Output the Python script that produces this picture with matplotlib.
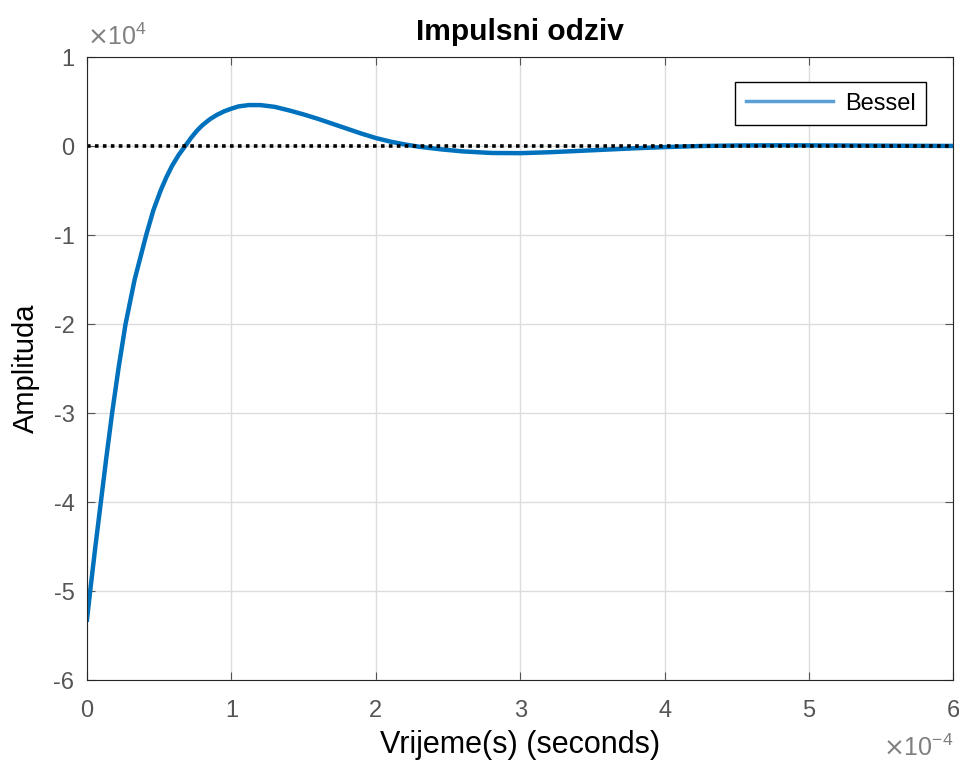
import numpy as np
import matplotlib
matplotlib.use('Agg')
from matplotlib import pyplot as plt

plt.rcParams['font.family'] = ['Liberation Sans', 'DejaVu Sans']

# impulse response: time in 1e-4 s, amplitude in 1e4
t_vals = [0.00, 0.022, 0.058, 0.096, 0.134, 0.174, 0.218, 0.267, 0.33, 0.41,
          0.46, 0.51, 0.55, 0.59, 0.635, 0.68, 0.72, 0.76, 0.80, 0.85, 0.90,
          0.95, 1.00, 1.05, 1.12, 1.20, 1.30, 1.40, 1.50, 1.60, 1.70, 1.80,
          1.90, 2.00, 2.10, 2.20, 2.30, 2.45, 2.60, 2.80, 3.00, 3.20, 3.40,
          3.60, 3.80, 4.00, 4.25, 4.50, 4.80, 5.20, 5.60, 6.00]
amp_vals = [-5.32, -5.00, -4.50, -4.00, -3.50, -3.00, -2.50, -2.00, -1.50,
            -1.00, -0.72, -0.50, -0.35, -0.22, -0.10, 0.00, 0.09, 0.17, 0.235,
            0.30, 0.35, 0.39, 0.42, 0.445, 0.46, 0.46, 0.44, 0.40, 0.355,
            0.305, 0.25, 0.195, 0.14, 0.09, 0.05, 0.018, -0.008, -0.037,
            -0.06, -0.078, -0.08, -0.07, -0.055, -0.04, -0.025, -0.012, 0.00,
            0.006, 0.008, 0.006, 0.003, 0.001]
x_ticks = [0, 1, 2, 3, 4, 5, 6]
y_ticks = [-6, -5, -4, -3, -2, -1, 0, 1]

t = np.array(t_vals) * 1e-4
amp = np.array(amp_vals) * 1e4

gray = '#555555'
fig = plt.figure(figsize=(9.59, 7.6), dpi=100)
ax = fig.add_axes([0.0907, 0.105, 0.9035, 0.820])

ax.plot(t, amp, color='#0072BD', lw=3.2, label='Bessel',
        solid_joinstyle='round')
ax.axhline(0, color='black', lw=2.6, ls=(0, (1, 1.2)))

ax.set_xlim(0, 6e-4)
ax.set_ylim(-6e4, 1e4)
ax.set_xticks(np.array(x_ticks) * 1e-4)
ax.set_xticklabels([str(v) for v in x_ticks])
ax.set_yticks(np.array(y_ticks) * 1e4)
ax.set_yticklabels([str(v) for v in y_ticks])
ax.tick_params(direction='in', top=True, right=True, labelsize=17,
               colors=gray, length=6)
ax.tick_params(axis='x', pad=14)
ax.tick_params(axis='y', pad=9)
ax.grid(True, color='#dcdcdc', lw=1)
for s in ax.spines.values():
    s.set_color('#262626')

ax.text(0, 1.012, r'$\times\mathregular{10^{4}}$', transform=ax.transAxes,
        fontsize=18, color='#808080', va='bottom', ha='left')
ax.text(1.0, -0.088, r'$\times\mathregular{10^{-4}}$', transform=ax.transAxes,
        fontsize=18, color='#808080', va='top', ha='right')

ax.set_title('Impulsni odziv', fontsize=21.5, fontweight='bold', pad=12)
ax.set_xlabel('Vrijeme(s) (seconds)', fontsize=22, labelpad=6)
ax.set_ylabel('Amplituda', fontsize=21, labelpad=10)

leg = ax.legend(loc='upper right', bbox_to_anchor=(0.9687, 0.960),
                borderaxespad=0, fancybox=False, edgecolor='black',
                framealpha=1, fontsize=17, handlelength=3.7,
                handletextpad=0.5, borderpad=0.45)
leg.get_lines()[0].set_linewidth(2.5)
leg.get_lines()[0].set_color('#5aa0d6')
leg.get_frame().set_linewidth(1)

plt.savefig('out.png', dpi=100)
